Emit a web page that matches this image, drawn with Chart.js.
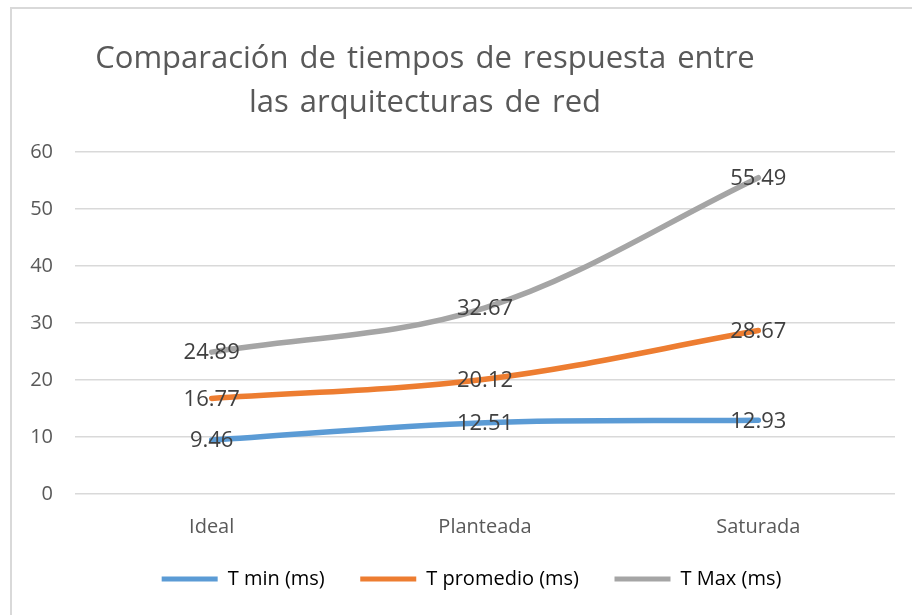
<!DOCTYPE html>
<html>
<head>
<meta charset="utf-8">
<script src="https://cdn.jsdelivr.net/npm/chart.js@4"></script>
<style>
  html, body { margin: 0; padding: 0; background: #fff; }
  #wrap { position: relative; width: 912px; height: 615px; overflow: hidden; background: #fff; }
  #frame { position: absolute; left: 10px; top: 7px; width: 1000px; height: 700px; border-left: 2px solid #d9d9d9; border-top: 2px solid #d9d9d9; box-sizing: border-box; }
  #title { position: absolute; left: 0; width: 850px; top: 34px; text-align: center; font-family: "Open Sans", sans-serif; font-size: 31px; word-spacing: 3px; line-height: 44px; color: #595959; }
  canvas { position: absolute; left: 0; top: 0; }
</style>
</head>
<body>
<div id="wrap">
  <div id="frame"></div>
  <canvas id="c" width="912" height="615"></canvas>
  <div id="title">Comparación de tiempos de respuesta entre<br>las arquitecturas de red</div>
</div>
<script>
const categories = ["Ideal", "Planteada", "Saturada"];
const seriesNames = ["T min (ms)", "T promedio (ms)", "T Max (ms)"];
const tMin = [9.46, 12.51, 12.93];
const tPromedio = [16.77, 20.12, 28.67];
const tMax = [24.89, 32.67, 55.49];
const yTicks = [0, 10, 20, 30, 40, 50, 60];
const colors = ["#5B9BD5", "#ED7D31", "#A5A5A5"];

const FONT = '"Open Sans", sans-serif';

const dataLabels = {
  id: 'dataLabels',
  afterDatasetsDraw(chart) {
    const ctx = chart.ctx;
    ctx.save();
    ctx.font = '22px ' + FONT;
    ctx.fillStyle = '#404040';
    ctx.textAlign = 'center';
    ctx.textBaseline = 'middle';
    chart.data.datasets.forEach((ds, i) => {
      const meta = chart.getDatasetMeta(i);
      meta.data.forEach((pt, j) => {
        ctx.fillText(ds.data[j].toFixed(2), pt.x, pt.y + 1);
      });
    });
    ctx.restore();
  }
};

const legendShift = {
  id: 'legendShift',
  afterLayout(chart) {
    const l = chart.legend;
    l.left += 24; l.right += 24;
  }
};

new Chart(document.getElementById('c'), {
  type: 'line',
  data: {
    labels: categories,
    datasets: [tMin, tPromedio, tMax].map((d, i) => ({
      label: seriesNames[i],
      data: d,
      borderColor: colors[i],
      backgroundColor: colors[i],
      borderWidth: 5.5,
      pointRadius: 0,
      tension: 0.35,
      borderCapStyle: 'round',
      borderJoinStyle: 'round'
    }))
  },
  options: {
    responsive: false,
    devicePixelRatio: 1,
    animation: false,
    layout: { padding: { left: 0, right: 17, top: 152, bottom: 16 } },
    plugins: {
      title: { display: false },
      tooltip: { enabled: false },
      legend: {
        position: 'bottom',
        labels: {
          boxWidth: 56,
          boxHeight: 5,
          padding: 35.5,
          color: '#595959',
          font: { family: FONT, size: 20 },
          useBorderRadius: true,
          borderRadius: 2.5,
          generateLabels(chart) {
            return chart.data.datasets.map((ds, i) => ({
              text: ds.label,
              fillStyle: ds.borderColor,
              strokeStyle: ds.borderColor,
              lineWidth: 0,
              hidden: false,
              datasetIndex: i
            }));
          }
        }
      }
    },
    scales: {
      x: {
        offset: true,
        grid: { display: false, drawTicks: false },
        border: { display: false },
        ticks: { color: '#595959', font: { family: FONT, size: 20 }, padding: 21 },
        afterFit(s) { s.height = 39.5; }
      },
      y: {
        min: 0, max: 60,
        afterBuildTicks(s) { s.ticks = yTicks.map(v => ({ value: v })); },
        grid: { color: '#D9D9D9', lineWidth: 1.5, drawTicks: false },
        border: { display: false },
        ticks: { color: '#595959', font: { family: FONT, size: 20 }, padding: 22 },
        afterFit(s) { s.width = 75; }
      }
    }
  },
  plugins: [dataLabels, legendShift]
});
</script>
</body>
</html>
